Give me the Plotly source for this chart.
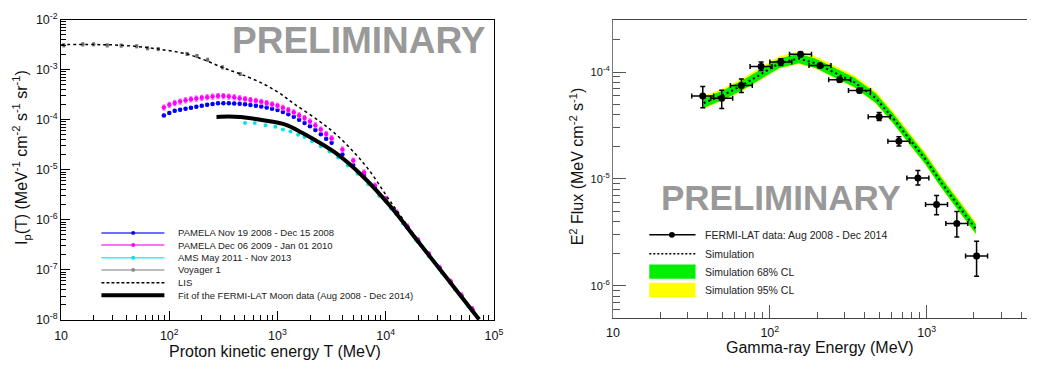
import plotly.graph_objects as go

W, H = 1037, 370

# ======================= LEFT PANEL DATA =======================
PAMELA_E = [89.1, 100, 112.2, 125.9, 141.3, 158.5, 177.8, 199.5, 223.9, 251.2, 281.8, 316.2,
            354.8, 398.1, 446.7, 501.2, 562.3, 631.0, 707.9, 794.3, 891.3, 1000, 1122, 1259,
            1413, 1585, 1778, 1995, 2239, 2512, 2818, 3162, 3981, 5012, 6310, 7943, 10000,
            12590, 15850, 19950, 25120, 31620, 39810, 50120, 63100]
PAMELA08_F = [1.216e-4, 1.358e-4, 1.50e-4, 1.585e-4, 1.66e-4, 1.734e-4, 1.82e-4, 1.905e-4,
              1.986e-4, 2.06e-4, 2.12e-4, 2.138e-4, 2.128e-4, 2.109e-4, 2.08e-4, 2.042e-4,
              1.972e-4, 1.905e-4, 1.832e-4, 1.746e-4, 1.66e-4, 1.567e-4, 1.429e-4, 1.288e-4,
              1.148e-4, 1.0e-4, 8.61e-5, 7.41e-5, 6.24e-5, 5.13e-5, 4.17e-5, 3.47e-5,
              2.02e-5, 1.24e-5, 7.62e-6, 4.31e-6, 2.46e-6, 1.35e-6, 7.14e-7, 3.79e-7,
              2.01e-7, 1.07e-7, 5.68e-8, 3.01e-8, 1.6e-8]
PAMELA09_F = [1.758e-4, 1.995e-4, 2.163e-4, 2.307e-4, 2.449e-4, 2.559e-4, 2.649e-4, 2.735e-4,
              2.818e-4, 2.904e-4, 2.972e-4, 2.965e-4, 2.904e-4, 2.818e-4, 2.692e-4, 2.582e-4,
              2.477e-4, 2.382e-4, 2.28e-4, 2.158e-4, 2.032e-4, 1.897e-4, 1.738e-4, 1.567e-4,
              1.406e-4, 1.23e-4, 1.076e-4, 9.23e-5, 7.76e-5, 6.38e-5, 5.19e-5, 4.27e-5,
              2.55e-5, 1.524e-5, 8.85e-6, 4.83e-6, 2.64e-6, 1.41e-6, 7.4e-7, 3.93e-7,
              2.08e-7, 1.107e-7, 5.87e-8, 3.12e-8, 1.656e-8]

AMS_E = [501, 617, 776, 955, 1122, 1318, 1549, 1778, 2089, 2512, 3020, 3631, 4467, 5495,
         6918, 8710, 11220, 14450, 19050, 25120, 33110, 43650, 57540]
AMS_F = [8.57e-5, 8.57e-5, 7.71e-5, 7.19e-5, 6.38e-5, 5.77e-5, 4.98e-5, 4.5e-5, 3.72e-5,
         2.95e-5, 2.32e-5, 1.758e-5, 1.216e-5, 8.32e-6, 5.13e-6, 3.02e-6, 1.68e-6, 8.41e-7,
         3.98e-7, 1.862e-7, 8.71e-8, 4.07e-8, 1.905e-8]

VOYAGER_E = [10.6, 15.9, 20, 26.7, 35.9, 50, 63, 79, 146, 180, 226, 310, 452]
VOYAGER_F = [3.05e-3, 3.19e-3, 3.2e-3, 3.05e-3, 3.02e-3, 2.92e-3, 2.67e-3, 2.57e-3,
             2.06e-3, 1.88e-3, 1.58e-3, 1.11e-3, 8.2e-4]

LIS_E = [10, 20, 31.6, 50, 79, 146, 208, 316, 452, 731, 1042, 1458, 2410, 3370, 4810, 6860,
         11100, 20000, 35500, 73100]
LIS_F = [3.15e-3, 3.16e-3, 3.1e-3, 2.9e-3, 2.57e-3, 2.04e-3, 1.58e-3, 1.08e-3, 8.2e-4,
         5.26e-4, 3.39e-4, 2.0e-4, 9.5e-5, 5.4e-5, 2.54e-5, 1.05e-5, 2.3e-6, 3.9e-7,
         7.8e-8, 1.05e-8]

FIT_E = [273, 355, 452, 631, 846, 1183, 1687, 2200, 3370, 5930, 11100, 20000, 35500, 73100]
FIT_F = [1.13e-4, 1.15e-4, 1.13e-4, 1.035e-4, 9.33e-5, 7.94e-5, 5.5e-5, 3.98e-5, 2.24e-5,
         7.94e-6, 1.84e-6, 3.63e-7, 7.52e-8, 1.02e-8]

LEFT_X_TICKS = [10, 100, 1000, 10000, 100000]
LEFT_X_TEXT = ["10", "10<sup>2</sup>", "10<sup>3</sup>", "10<sup>4</sup>", "10<sup>5</sup>"]
LEFT_Y_TICKS = [1e-8, 1e-7, 1e-6, 1e-5, 1e-4, 1e-3, 1e-2]
LEFT_Y_TEXT = ["10<sup>-8</sup>", "10<sup>-7</sup>", "10<sup>-6</sup>", "10<sup>-5</sup>",
               "10<sup>-4</sup>", "10<sup>-3</sup>", "10<sup>-2</sup>"]

LEFT_LEGEND = ["PAMELA Nov 19 2008 - Dec 15 2008", "PAMELA Dec 06 2009 - Jan 01 2010",
               "AMS May 2011 - Nov 2013", "Voyager 1", "LIS",
               "Fit of the FERMI-LAT Moon data (Aug 2008 - Dec 2014)"]

# ======================= RIGHT PANEL DATA =======================
FERMI_E = [37.4, 49.4, 65.9, 88.0, 117.6, 157.0, 209.0, 279.0, 373.0, 498.0, 665.0, 879.0,
           1156.0, 1557.0, 2080.0]
FERMI_E_LO = [31.8, 42.0, 56.1, 74.9, 100.1, 133.6, 177.9, 237.4, 317.4, 423.8, 566.0, 748.0,
              983.8, 1325.0, 1770.0]
FERMI_E_HI = [43.9, 58.0, 77.4, 103.4, 138.2, 184.5, 245.6, 327.8, 438.3, 585.2, 781.4, 1033.0,
              1358.0, 1829.0, 2444.0]
FERMI_F = [5.97e-5, 5.69e-5, 7.5e-5, 1.13e-4, 1.24e-4, 1.47e-4, 1.155e-4, 8.48e-5, 6.72e-5,
           3.82e-5, 2.25e-5, 1.02e-5, 5.78e-6, 3.83e-6, 1.9e-6]
FERMI_F_HI = [7.34e-5, 6.76e-5, 8.6e-5, 1.24e-4, 1.33e-4, 1.53e-4, 1.19e-4, 8.9e-5, 7.05e-5,
              4.18e-5, 2.49e-5, 1.2e-5, 7.0e-6, 4.97e-6, 2.62e-6]
FERMI_F_LO = [4.64e-5, 4.57e-5, 6.45e-5, 1.035e-4, 1.15e-4, 1.39e-4, 1.12e-4, 8.1e-5, 6.4e-5,
              3.52e-5, 2.03e-5, 8.8e-6, 4.63e-6, 2.87e-6, 1.23e-6]

SIM_E = [37.9, 50.6, 67.5, 90.1, 114.8, 153, 195, 260, 347, 474, 603, 767, 977, 1242, 1581, 2057]
SIM_F = [5.14e-5, 6.1e-5, 7.6e-5, 9.86e-5, 1.21e-4, 1.34e-4, 1.21e-4, 9.86e-5, 8.0e-5, 5.7e-5,
         3.78e-5, 2.41e-5, 1.54e-5, 9.2e-6, 5.7e-6, 3.4e-6]
SIM68_HI = [5.70e-5, 6.77e-5, 8.43e-5, 1.093e-4, 1.342e-4, 1.486e-4, 1.342e-4, 1.093e-4, 8.87e-5,
            6.32e-5, 4.19e-5, 2.67e-5, 1.708e-5, 1.02e-5, 6.32e-6, 3.77e-6]
SIM68_LO = [4.63e-5, 5.50e-5, 6.85e-5, 8.89e-5, 1.091e-4, 1.208e-4, 1.091e-4, 8.89e-5, 7.21e-5,
            5.14e-5, 3.41e-5, 2.17e-5, 1.388e-5, 8.29e-6, 5.14e-6, 3.07e-6]
SIM95_HI = [5.97e-5, 7.08e-5, 8.83e-5, 1.145e-4, 1.405e-4, 1.556e-4, 1.405e-4, 1.145e-4, 9.29e-5,
            6.62e-5, 4.39e-5, 2.80e-5, 1.789e-5, 1.068e-5, 6.62e-6, 3.95e-6]
SIM95_LO = [4.56e-5, 5.41e-5, 6.74e-5, 8.75e-5, 1.073e-4, 1.189e-4, 1.073e-4, 8.75e-5, 7.10e-5,
            5.06e-5, 3.35e-5, 2.14e-5, 1.366e-5, 8.16e-6, 5.06e-6, 3.02e-6]

RIGHT_X_TICKS = [10, 100, 1000]
RIGHT_X_TEXT = ["10", "10<sup>2</sup>", "10<sup>3</sup>"]
RIGHT_Y_TICKS = [1e-6, 1e-5, 1e-4]
RIGHT_Y_TEXT = ["10<sup>-6</sup>", "10<sup>-5</sup>", "10<sup>-4</sup>"]

RIGHT_LEGEND = ["FERMI-LAT data: Aug 2008 - Dec 2014", "Simulation",
                "Simulation 68% CL", "Simulation 95% CL"]

# ======================= STYLE =======================
FONT = "Liberation Sans, Arial, Helvetica, sans-serif"
C_BLUE, C_MAG, C_CYAN, C_GRAY = "#0000ff", "#ff00ff", "#00e5e5", "#6e6e6e"
C_GREEN, C_YELLOW = "#00ee00", "#ffff00"


def px(x):
    return x / W


def py(y):
    return 1 - y / H


fig = go.Figure()

# ----- left panel traces -----
fig.add_trace(go.Scatter(x=PAMELA_E, y=PAMELA08_F, mode="markers", xaxis="x", yaxis="y",
                         marker=dict(color=C_BLUE, size=4.5),
                         error_y=dict(type="percent", value=5, color=C_BLUE, thickness=1, width=1.5)))
fig.add_trace(go.Scatter(x=PAMELA_E, y=PAMELA09_F, mode="markers", xaxis="x", yaxis="y",
                         marker=dict(color=C_MAG, size=4.5),
                         error_y=dict(type="percent", value=12, color="#ff55ff", thickness=1, width=1.5)))
fig.add_trace(go.Scatter(x=AMS_E, y=AMS_F, mode="markers", xaxis="x", yaxis="y",
                         marker=dict(color=C_CYAN, size=4)))
fig.add_trace(go.Scatter(x=VOYAGER_E, y=VOYAGER_F, mode="markers", xaxis="x", yaxis="y",
                         marker=dict(color=C_GRAY, size=3.5),
                         error_y=dict(type="percent", value=7, color=C_GRAY, thickness=1, width=1.5)))
fig.add_trace(go.Scatter(x=LIS_E, y=LIS_F, mode="lines", xaxis="x", yaxis="y",
                         line=dict(color="black", width=1.5, dash="3px,3px", shape="spline")))
fig.add_trace(go.Scatter(x=FIT_E, y=FIT_F, mode="lines", xaxis="x", yaxis="y",
                         line=dict(color="black", width=4, shape="spline")))

# ----- right panel traces -----
fig.add_trace(go.Scatter(x=SIM_E, y=SIM95_LO, mode="lines", xaxis="x2", yaxis="y2",
                         line=dict(width=0, color=C_YELLOW)))
fig.add_trace(go.Scatter(x=SIM_E, y=SIM95_HI, mode="lines", xaxis="x2", yaxis="y2",
                         line=dict(width=0, color=C_YELLOW), fill="tonexty", fillcolor=C_YELLOW))
fig.add_trace(go.Scatter(x=SIM_E, y=SIM68_LO, mode="lines", xaxis="x2", yaxis="y2",
                         line=dict(width=0, color=C_GREEN)))
fig.add_trace(go.Scatter(x=SIM_E, y=SIM68_HI, mode="lines", xaxis="x2", yaxis="y2",
                         line=dict(width=0, color=C_GREEN), fill="tonexty", fillcolor=C_GREEN))
fig.add_trace(go.Scatter(x=SIM_E, y=SIM_F, mode="lines", xaxis="x2", yaxis="y2",
                         line=dict(color="black", width=2, dash="2px,3px")))
fig.add_trace(go.Scatter(
    x=FERMI_E, y=FERMI_F, mode="markers", xaxis="x2", yaxis="y2",
    marker=dict(color="black", size=7),
    error_y=dict(type="data", symmetric=False,
                 array=[h - f for h, f in zip(FERMI_F_HI, FERMI_F)],
                 arrayminus=[f - l for f, l in zip(FERMI_F, FERMI_F_LO)],
                 color="black", thickness=1.5, width=2.5),
    error_x=dict(type="data", symmetric=False,
                 array=[h - e for h, e in zip(FERMI_E_HI, FERMI_E)],
                 arrayminus=[e - l for e, l in zip(FERMI_E, FERMI_E_LO)],
                 color="black", thickness=1.5, width=2.5)))

# ======================= AXES =======================
tick_font = dict(family=FONT, size=12.5, color="#111")
common = dict(type="log", showgrid=False, zeroline=False, showline=True, linewidth=1,
              ticks="inside", tickwidth=1, tickmode="array")

fig.update_layout(
    width=W, height=H, autosize=False, margin=dict(l=0, r=0, t=0, b=0),
    paper_bgcolor="white", plot_bgcolor="white", showlegend=False,
    xaxis=dict(common, range=[1, 5], domain=[px(55), px(495)], anchor="y",
               linecolor="black", mirror=True, ticklen=9, tickcolor="black",
               tickvals=LEFT_X_TICKS, ticktext=LEFT_X_TEXT, tickfont=tick_font,
               ticklabelstandoff=4,
               minor=dict(ticks="inside", ticklen=5, tickcolor="black", dtick="D1", showgrid=False)),
    yaxis=dict(common, range=[-8, -2], domain=[py(325), py(11)], anchor="x",
               linecolor="black", mirror=True, ticklen=9, tickcolor="black",
               tickvals=LEFT_Y_TICKS, ticktext=LEFT_Y_TEXT, tickfont=tick_font,
               minor=dict(ticks="inside", ticklen=5, tickcolor="black", dtick="D1", showgrid=False)),
    xaxis2=dict(common, range=[1, 3.6395], domain=[px(616), 1.0], anchor="y2",
                linecolor="#444", mirror=True, ticklen=13, tickcolor="#555",
                tickvals=RIGHT_X_TICKS, ticktext=RIGHT_X_TEXT, tickfont=tick_font,
                ticklabelstandoff=3,
                minor=dict(ticks="inside", ticklen=6, tickcolor="#555", dtick="D1", showgrid=False)),
    yaxis2=dict(common, range=[-6.301, -3.517], domain=[py(323), py(12)], anchor="x2",
                linecolor="#777", mirror=False, ticklen=13, tickcolor="#555",
                tickvals=RIGHT_Y_TICKS, ticktext=RIGHT_Y_TEXT,
                tickfont=dict(family=FONT, size=11, color="#111"),
                minor=dict(ticks="inside", ticklen=7, tickcolor="#555", dtick="D1", showgrid=False)),
)

# ======================= TEXT =======================
ann = []
title_font = dict(family=FONT, size=16, color="#111")
ann.append(dict(text="Proton kinetic energy T (MeV)", x=px(272), y=py(358), font=title_font))
ann.append(dict(text="I<sub>p</sub>(T) (MeV<sup>-1</sup> cm<sup>-2</sup> s<sup>-1</sup> sr<sup>-1</sup>)",
                x=px(15), y=py(155), textangle=-90, font=title_font))
ann.append(dict(text="Gamma-ray Energy (MeV)", x=px(827), y=py(354), font=title_font))
ann.append(dict(text="E<sup>2</sup> Flux (MeV cm<sup>-2</sup> s<sup>-1</sup>)",
                x=px(579), y=py(165), textangle=-90, font=title_font))
prelim_font = dict(family=FONT, size=37, color="#999999")
ann.append(dict(text="<b>PRELIMINARY</b>", x=px(357.5), y=py(33), font=prelim_font))
ann.append(dict(text="<b>PRELIMINARY</b>", x=px(786.5), y=py(197), font=dict(prelim_font, size=35)))

shapes = []
# left legend
leg_rows = [234, 246.7, 260, 272.7, 286, 299.3]
leg_styles = [
    dict(color=C_BLUE, width=1.5, dash="solid", marker=True),
    dict(color=C_MAG, width=1.5, dash="solid", marker=True),
    dict(color=C_CYAN, width=1.5, dash="solid", marker=True),
    dict(color="#888888", width=1.5, dash="solid", marker=True),
    dict(color="black", width=1.5, dash="3px,2px", marker=False),
    dict(color="black", width=4, dash="solid", marker=False),
]
for yrow, st, label in zip(leg_rows, leg_styles, LEFT_LEGEND):
    shapes.append(dict(type="line", xref="paper", yref="paper", x0=px(96), x1=px(160),
                       y0=py(yrow), y1=py(yrow),
                       line=dict(color=st["color"], width=st["width"], dash=st["dash"]),
                       opacity=0.75 if st["marker"] else 1))
    if st["marker"]:
        shapes.append(dict(type="circle", xref="paper", yref="paper",
                           x0=px(126.3), x1=px(130.3), y0=py(yrow + 2), y1=py(yrow - 2),
                           fillcolor=st["color"], line=dict(width=0)))
    ann.append(dict(text=label, x=px(172), y=py(yrow), xanchor="left",
                    font=dict(family=FONT, size=9.5, color="#222")))

# right legend
r_rows = [236, 255.7, 274.5, 293.5]
shapes.append(dict(type="line", xref="paper", yref="paper", x0=px(653), x1=px(700),
                   y0=py(r_rows[0]), y1=py(r_rows[0]), line=dict(color="black", width=1.5)))
shapes.append(dict(type="circle", xref="paper", yref="paper", x0=px(673), x1=px(679),
                   y0=py(r_rows[0] + 3), y1=py(r_rows[0] - 3), fillcolor="black", line=dict(width=0)))
shapes.append(dict(type="line", xref="paper", yref="paper", x0=px(653), x1=px(700),
                   y0=py(r_rows[1]), y1=py(r_rows[1]),
                   line=dict(color="black", width=1.5, dash="2px,2px")))
shapes.append(dict(type="rect", xref="paper", yref="paper", x0=px(653), x1=px(700),
                   y0=py(282), y1=py(267), fillcolor=C_GREEN, line=dict(width=0)))
shapes.append(dict(type="rect", xref="paper", yref="paper", x0=px(653), x1=px(700),
                   y0=py(301), y1=py(286), fillcolor=C_YELLOW, line=dict(width=0)))
for yrow, label in zip(r_rows, RIGHT_LEGEND):
    ann.append(dict(text=label, x=px(708), y=py(yrow), xanchor="left",
                    font=dict(family=FONT, size=10.5, color="#222")))

for a in ann:
    a.setdefault("xref", "paper")
    a.setdefault("yref", "paper")
    a.setdefault("showarrow", False)
    a.setdefault("xanchor", "center")
    a.setdefault("yanchor", "middle")

fig.update_layout(annotations=ann, shapes=shapes)

fig.write_html("out.html")
